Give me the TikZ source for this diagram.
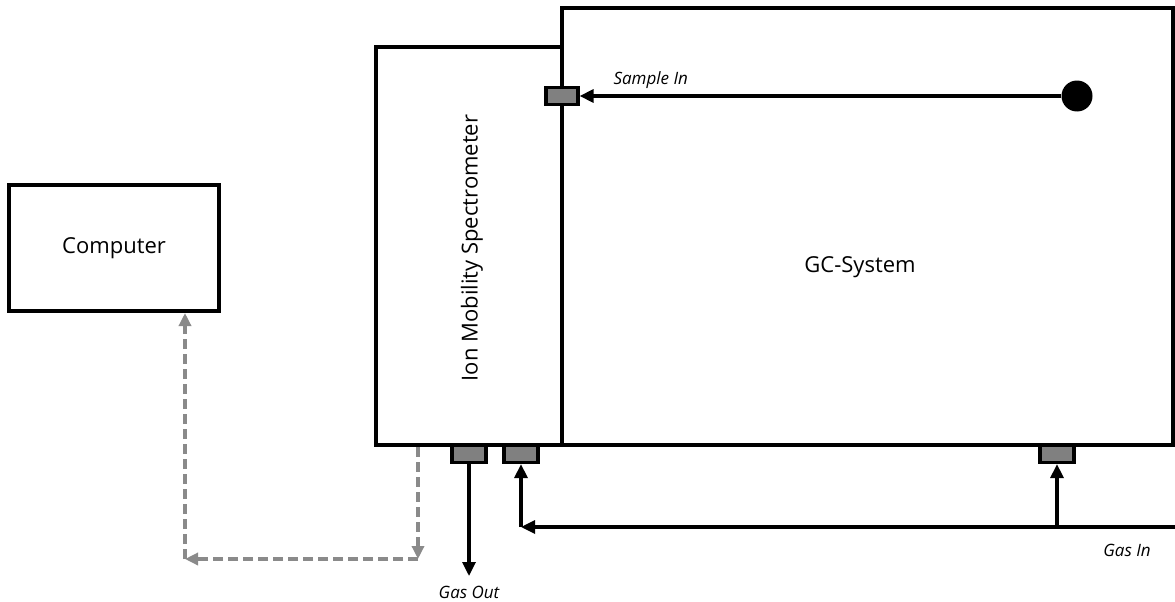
\documentclass[tikz,border=0pt]{standalone}
\usepackage{fontspec}
\setmainfont{Open Sans}
\usepackage{xcolor}
\definecolor{gsPort}{HTML}{808080}
\definecolor{gsLink}{HTML}{8A8A8A}
\usepackage{tikz}
\usetikzlibrary{positioning,arrows.meta,calc}

\begin{document}
\begin{tikzpicture}[
      x=1pt,y=-1pt,
      every node/.style={font=\fontsize{22}{26}\selectfont},
      unit/.style={rectangle,draw=black,line width=4pt,fill=white,inner sep=0pt},
      port/.style={rectangle,draw=black,line width=3.2pt,fill=gsPort,
                   minimum width=32pt,minimum height=17pt,inner sep=0pt},
      lbl/.style={font=\fontsize{17}{20}\selectfont\itshape},
      arr/.style={-{Triangle[length=14pt,width=13pt]},line width=3.2pt,black},
      link/.style={-{Triangle[length=13pt,width=12pt]},line width=3.6pt,gsLink,
                   dash pattern=on 10pt off 5pt},
    ]
    \useasboundingbox (0,0) rectangle (1175,602);

    % --- Units ---
    \node[unit,minimum width=611pt,minimum height=437pt] (gc) at (867.5,226.5) {};
    \node[unit,minimum width=186pt,minimum height=398pt] (ims) at (469,246) {};
    \node[unit,minimum width=210pt,minimum height=126pt] (computer) at (114,248) {Computer};
    \node at (860,267) (gclabel) {GC-System};
    \node[rotate=90] at (472,248) (imslabel) {Ion Mobility Spectrometer};

    % --- Ports ---
    \node[port] (samplein) at (562,96) {};
    \node[port,minimum width=34pt] (gasout) at (469,454) {};
    \node[port,minimum width=34pt] (imsin) at (521,454) {};
    \node[port,minimum width=34pt] (gcin) at (1057,454) {};

    % --- Sample injection ---
    \node[circle,fill=black,minimum size=31pt,inner sep=0pt] (sample) at (1077,96) {};
    \draw[arr] (sample.west) -- (samplein.east);
    \node[lbl,anchor=west] (samplelbl) at (610,80) {Sample In};

    % --- Gas lines ---
    \coordinate (gasin) at (1175,527);
    \coordinate (bend) at (521,527);
    \coordinate (outend) at (469,576);
    \draw[arr] (gasin) -- (bend);
    \draw[arr] (bend) -- (imsin.south);
    \draw[arr] (gcin.south |- gasin) -- (gcin.south);
    \draw[arr] (gasout.south) -- (outend);
    \node[lbl] (gasinlbl) at (1127,550) {Gas In};
    \node[lbl] (gasoutlbl) at (469,592) {Gas Out};

    % --- Data link ---
    \coordinate (imsdata) at (418,447);
    \coordinate (dcorner) at (418,559);
    \coordinate (lcorner) at (185,559);
    \draw[link] (imsdata) -- (dcorner);
    \draw[link] (dcorner) -- (lcorner);
    \draw[link] (lcorner) -- (lcorner |- computer.south);

  \end{tikzpicture}
\end{document}
